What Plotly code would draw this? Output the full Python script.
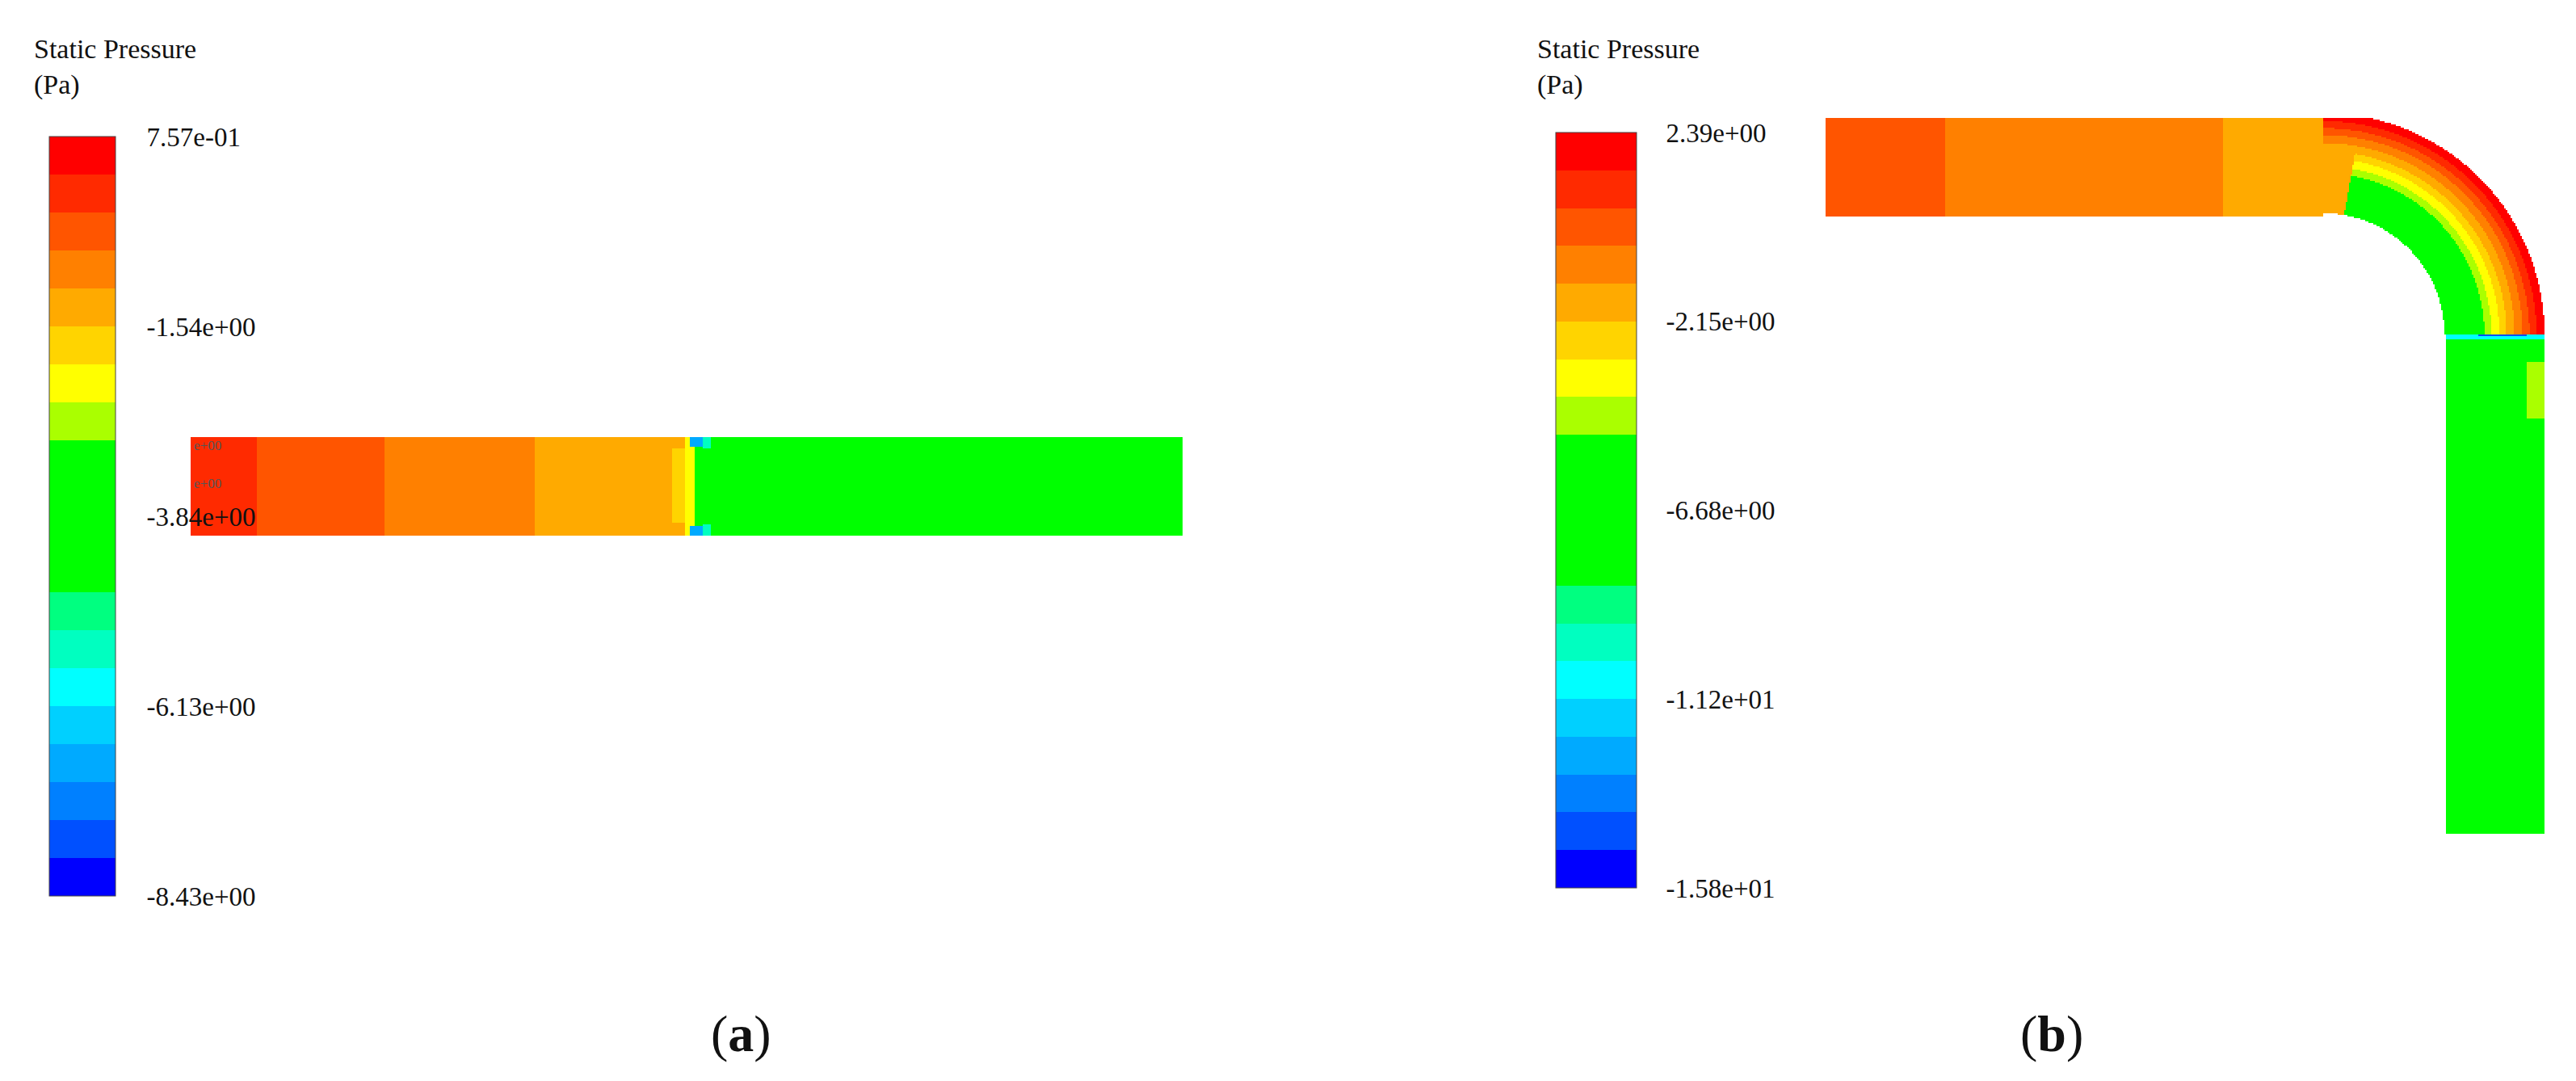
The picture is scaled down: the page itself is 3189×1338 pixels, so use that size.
import numpy as np
import plotly.graph_objects as go

W, H = 3189, 1338
# 20 contour band colours, bottom (level 0) -> top (level 19)
band_colors = ["#0000FF", "#0050FF", "#0080FF", "#00AAFF", "#00D0FF", "#00FFFF", "#00FFC0", "#00FF80",
               "#00FF00", "#00FF00", "#00FF00", "#00FF00", "#AAFF00", "#FFFF00", "#FFD400", "#FFAA00",
               "#FF8000", "#FF5500", "#FF2A00", "#FF0000"]

# Panel (a) range and ticks
a_min, a_max = -8.43, 0.757
a_ticks = ["7.57e-01", "-1.54e+00", "-3.84e+00", "-6.13e+00", "-8.43e+00"]
# Panel (b)
b_min, b_max = -15.8, 2.39
b_ticks = ["2.39e+00", "-2.15e+00", "-6.68e+00", "-1.12e+01", "-1.58e+01"]

# Straight pipe (a): segments along x with band level
a_seg_x = [228, 311, 468, 655, 824, 840, 852, 1456]
a_seg_lvl = [18, 17, 16, 15, 14, 13, 10]
a_y = (533, 655)
# Patches (x0, x1, y0, y1, level) for local features
a_patch = [(824, 840, 533, 548, 15), (824, 840, 640, 655, 15),
           (846, 862, 533, 545, 3), (846, 862, 643, 655, 3),
           (862, 872, 533, 547, 6), (862, 872, 641, 655, 6)]

# Elbow pipe (b)
b_seg_x = [2252, 2400, 2745, 2868]
b_seg_lvl = [17, 16, 15]
b_y = (138, 260)
b_center = (2868, 406)
b_rin, b_rout = 150, 274
# Radial profile in bend: fraction from inner wall -> level
b_rad_edges = [0.0, 0.40, 0.47, 0.55, 0.62, 0.70, 0.78, 0.85, 0.92, 1.0]
b_rad_lvl = [10, 12, 13, 14, 15, 16, 17, 18, 19]
b_entry_angle = 80  # deg; near the inlet of the bend the core stays amber
b_vert_x = (3020, 3142)
b_vert_y = (406, 1025)
b_vert_lvl = 10
b_vpatch = [(3020, 3142, 406, 412, 5), (3060, 3120, 406, 409, 1), (3120, 3142, 440, 510, 12)]


def lvl_to_val(l, lo, hi):
    return lo + (l + 0.5) * (hi - lo) / 20.0


step = 2
# --- field a
xa = np.arange(a_seg_x[0], a_seg_x[-1], step) + step / 2
ya = np.arange(a_y[0], a_y[1], step) + step / 2
Za = np.full((len(ya), len(xa)), np.nan)
for i in range(len(a_seg_lvl)):
    m = (xa >= a_seg_x[i]) & (xa < a_seg_x[i + 1])
    Za[:, m] = a_seg_lvl[i]
for (x0, x1, y0, y1, l) in a_patch:
    Za[np.ix_((ya >= y0) & (ya < y1), (xa >= x0) & (xa < x1))] = l
Za = lvl_to_val(Za, a_min, a_max)

# --- field b
xb = np.arange(b_seg_x[0], b_vert_x[1] + 8, step) + step / 2
yb = np.arange(b_y[0], b_vert_y[1], step) + step / 2
XB, YB = np.meshgrid(xb, yb)
Zb = np.full(XB.shape, np.nan)
for i in range(len(b_seg_lvl)):
    m = (XB >= b_seg_x[i]) & (XB < b_seg_x[i + 1]) & (YB >= b_y[0]) & (YB < b_y[1])
    Zb[m] = b_seg_lvl[i]
dx, dy = XB - b_center[0], b_center[1] - YB
R = np.hypot(dx, dy)
ang = np.degrees(np.arctan2(dy, dx))
inbend = (dx >= 0) & (dy >= 0) & (R >= b_rin) & (R <= b_rout)
frac = (R - b_rin) / (b_rout - b_rin)
for i in range(len(b_rad_lvl)):
    m = inbend & (frac >= b_rad_edges[i]) & (frac <= b_rad_edges[i + 1])
    Zb[m] = b_rad_lvl[i]
m = inbend & (ang > b_entry_angle) & (Zb < 15)
Zb[m] = 15
m = (XB >= b_vert_x[0]) & (XB < b_vert_x[1]) & (YB >= b_vert_y[0]) & (YB < b_vert_y[1])
Zb[m] = b_vert_lvl
for (x0, x1, y0, y1, l) in b_vpatch:
    Zb[(XB >= x0) & (XB < x1) & (YB >= y0) & (YB < y1)] = l
Zb = lvl_to_val(Zb, b_min, b_max)

cs = []
for i, c in enumerate(band_colors):
    cs += [[i / 20, c], [(i + 1) / 20, c]]

font = "Liberation Serif"


def cbar(x, lo, hi, labels, top, bot, thick, tl):
    return dict(x=x, xanchor="left", y=1 - (top + bot) / 2 / H, yanchor="middle", len=(bot - top) / H,
                lenmode="fraction", thickness=thick, thicknessmode="pixels", outlinewidth=1, outlinecolor="#444",
                xpad=0, ypad=0,
                tickvals=list(np.linspace(hi, lo, 5)), ticktext=labels, ticks="outside", ticklen=tl,
                tickcolor="rgba(0,0,0,0)", tickfont=dict(family=font, size=33, color="#111"))


fig = go.Figure()
fig.add_trace(go.Heatmap(x=xa, y=ya, z=Za, coloraxis="coloraxis", hoverinfo="skip"))
fig.add_trace(go.Heatmap(x=xb, y=yb, z=Zb, coloraxis="coloraxis2", hoverinfo="skip"))

ann = [
    dict(x=32, y=32, text="Static Pressure<br>(Pa)", align="left"),
    dict(x=1893, y=32, text="Static Pressure<br>(Pa)", align="left"),
]
annotations = [dict(xref="x", yref="y", xanchor="left", yanchor="top", showarrow=False,
                    font=dict(family=font, size=34, color="#111"), **a) for a in ann]
for x, t in [(909, "(<b>a</b>)"), (2532, "(<b>b</b>)")]:
    annotations.append(dict(xref="x", yref="y", x=x, y=1271, text=t, showarrow=False,
                            font=dict(family=font, size=64, color="#111")))
for y in [543, 590]:
    annotations.append(dict(xref="x", yref="y", x=230, y=y, xanchor="left", text="e+00", showarrow=False,
                            font=dict(family=font, size=17, color="#555")))

fig.update_layout(
    width=W, height=H, margin=dict(l=0, r=0, t=0, b=0), paper_bgcolor="white", plot_bgcolor="white",
    xaxis=dict(range=[0, W], visible=False),
    yaxis=dict(range=[H, 0], visible=False),
    coloraxis=dict(colorscale=cs, cmin=a_min, cmax=a_max,
                   colorbar=cbar(53 / W, a_min, a_max, a_ticks, 161, 1101, 82, 32)),
    coloraxis2=dict(colorscale=cs, cmin=b_min, cmax=b_max,
                    colorbar=cbar(1918 / W, b_min, b_max, b_ticks, 156, 1091, 100, 30)),
    annotations=annotations,
)
fig.write_html("out.html")
